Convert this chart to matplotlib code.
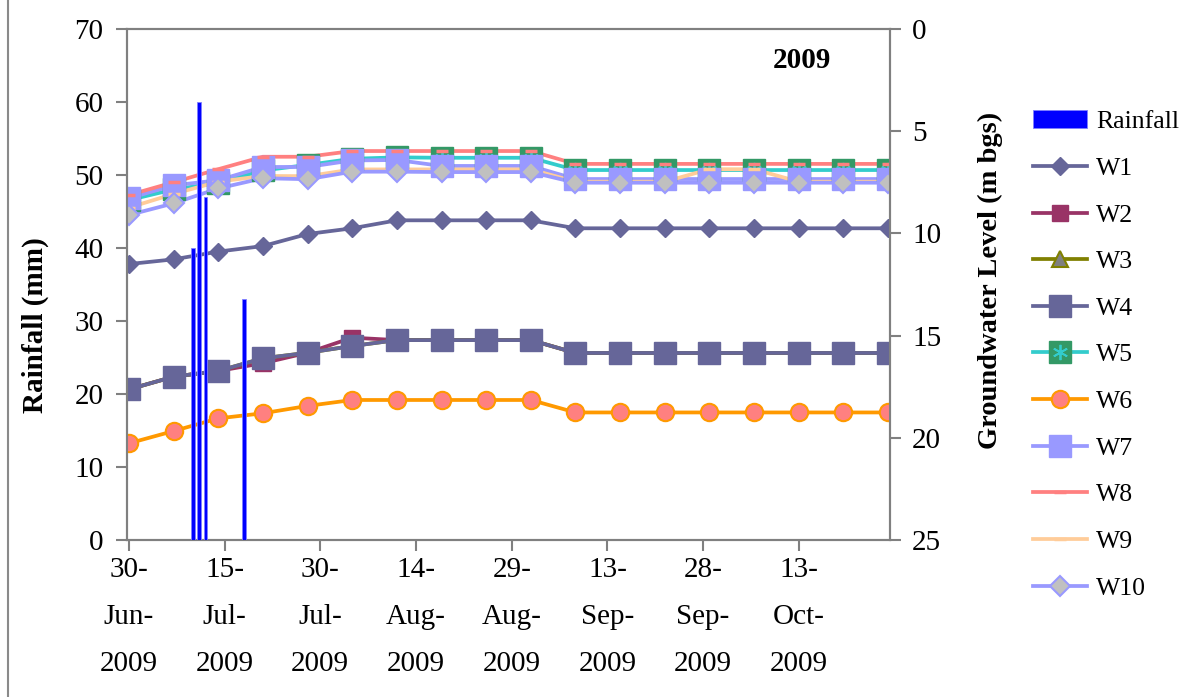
import datetime as dt

import matplotlib
matplotlib.use("Agg")
import matplotlib.pyplot as plt
import matplotlib.dates as mdates
from matplotlib.lines import Line2D
from matplotlib.patches import Patch

plt.rcParams["font.family"] = ["Liberation Serif", "DejaVu Serif"]

# ---- data -------------------------------------------------------------
obs_dates = ["2009-06-30", "2009-07-07", "2009-07-14", "2009-07-21",
             "2009-07-28", "2009-08-04", "2009-08-11", "2009-08-18",
             "2009-08-25", "2009-09-01", "2009-09-08", "2009-09-15",
             "2009-09-22", "2009-09-29", "2009-10-06", "2009-10-13",
             "2009-10-20", "2009-10-27"]

rain_dates = ["2009-07-10", "2009-07-11", "2009-07-12", "2009-07-18"]
rain_mm = [40, 60, 47, 33]

# groundwater level, m below ground surface
w1 = [11.50, 11.27, 10.89, 10.62, 10.03, 9.75, 9.36, 9.36, 9.36, 9.36,
      9.75, 9.75, 9.75, 9.75, 9.75, 9.75, 9.75, 9.75]
w2 = [17.63, 17.01, 16.73, 16.35, 15.84, 15.10, 15.22, 15.22, 15.22, 15.22,
      15.85, 15.85, 15.85, 15.85, 15.85, 15.85, 15.85, 15.85]
w3 = [17.63, 17.01, 16.73, 16.11, 15.84, 15.51, 15.22, 15.22, 15.22, 15.22,
      15.85, 15.85, 15.85, 15.85, 15.85, 15.85, 15.85, 15.85]
w4 = [17.63, 17.01, 16.73, 16.11, 15.84, 15.51, 15.22, 15.22, 15.22, 15.22,
      15.85, 15.85, 15.85, 15.85, 15.85, 15.85, 15.85, 15.85]
w5 = [8.37, 7.85, 7.53, 6.92, 6.65, 6.35, 6.28, 6.30, 6.30, 6.30,
      6.90, 6.90, 6.90, 6.90, 6.90, 6.90, 6.90, 6.90]
w6 = [20.27, 19.67, 19.05, 18.80, 18.44, 18.15, 18.15, 18.15, 18.15, 18.15,
      18.76, 18.76, 18.76, 18.76, 18.76, 18.76, 18.76, 18.76]
w7 = [8.28, 7.65, 7.40, 6.75, 6.75, 6.43, 6.41, 6.70, 6.70, 6.70,
      7.34, 7.34, 7.34, 7.34, 7.34, 7.34, 7.34, 7.34]
w8 = [8.12, 7.50, 6.86, 6.25, 6.25, 5.97, 5.97, 5.97, 5.97, 5.97,
      6.60, 6.60, 6.60, 6.60, 6.60, 6.60, 6.60, 6.60]
w9 = [8.74, 8.07, 7.47, 7.19, 7.20, 6.87, 6.87, 6.87, 6.87, 6.87,
      7.47, 7.47, 7.47, 6.86, 6.86, 7.47, 7.47, 7.47]
w10 = [9.10, 8.53, 7.80, 7.30, 7.35, 6.98, 6.98, 7.00, 7.00, 7.00,
       7.52, 7.52, 7.52, 7.52, 7.52, 7.52, 7.52, 7.52]

well_names = ["W1", "W2", "W3", "W4", "W5", "W6", "W7", "W8", "W9", "W10"]
well_levels = [w1, w2, w3, w4, w5, w6, w7, w8, w9, w10]

tick_dates = ["2009-06-30", "2009-07-15", "2009-07-30", "2009-08-14",
              "2009-08-29", "2009-09-13", "2009-09-28", "2009-10-13"]

# ---- styles -----------------------------------------------------------
well_styles = {
    "W1": dict(color="#666699", marker="D", ms=9.5, mfc="#666699", mec="#666699", mew=1),
    "W2": dict(color="#993366", marker="s", ms=12, mfc="#993366", mec="#993366", mew=1),
    "W3": dict(color="#808000", marker="^", ms=12, mfc="#808080", mec="#808000", mew=1.5),
    "W4": dict(color="#666699", marker="s", ms=16.5, mfc="#666699", mec="#666699", mew=1),
    "W5": dict(color="#33CCCC", marker="s", ms=16.5, mfc="#339966", mec="#339966", mew=1),
    "W6": dict(color="#FF9900", marker="o", ms=12.5, mfc="#FF8080", mec="#FF9900", mew=1.5),
    "W7": dict(color="#9999FF", marker="s", ms=16.5, mfc="#9999FF", mec="#9999FF", mew=1),
    "W8": dict(color="#FF8080", marker="_", ms=8.5, mfc="#FF8080", mec="#FF8080", mew=2.5),
    "W9": dict(color="#FFCC99", marker="_", ms=8.5, mfc="#FFCC99", mec="#FFCC99", mew=2.5),
    "W10": dict(color="#9999FF", marker="D", ms=10, mfc="#C0C0C0", mec="#9999FF", mew=1.5),
}
LINE_W = 2.7
GRID_GREY = "#808080"
FS = 21


def to_dt(s):
    return dt.datetime.strptime(s, "%Y-%m-%d")


obs_x = [to_dt(d) for d in obs_dates]
rain_x = [to_dt(d) for d in rain_dates]

W, H = 1181, 697
fig = plt.figure(figsize=(W / 100, H / 100), dpi=100)
fig.patch.set_facecolor("white")

L, R, T, B = 127, 890, 29, 540
ax = fig.add_axes([L / W, 1 - B / H, (R - L) / W, (B - T) / H])
ax2 = ax.twinx()

# groundwater lines: all lines first, then markers on top in series order
for name, lev in zip(well_names, well_levels):
    st = well_styles[name]
    ax2.plot(obs_x, lev, color=st["color"], lw=LINE_W, zorder=2,
             solid_capstyle="butt", solid_joinstyle="miter")
for i, (name, lev) in enumerate(zip(well_names, well_levels)):
    st = well_styles[name]
    ax2.plot(obs_x, lev, ls="none", marker=st["marker"], ms=st["ms"],
             mfc=st["mfc"], mec=st["mec"], mew=st["mew"], zorder=3 + i * 0.01)
    if name == "W5":
        ax2.plot(obs_x, lev, ls="none", marker=(6, 2, 0), ms=11,
                 mec="#33CCCC", mew=1.3, zorder=3 + i * 0.01 + 0.005)

# rainfall columns drawn above the well series
ax.bar(rain_x, rain_mm, width=0.6, color="#0000FF", edgecolor="#8080FF",
       linewidth=0.6, zorder=3)
ax.set_zorder(ax2.get_zorder() + 1)
ax.patch.set_visible(False)

# axes ranges and ticks
x0 = mdates.date2num(obs_x[0]) - 0.3
x1 = mdates.date2num(obs_x[-1]) + 0.3
ax.set_xlim(x0, x1)
ax.set_ylim(0, 70)
ax.set_yticks(range(0, 71, 10))
ax2.set_ylim(25, 0)
ax2.set_yticks(range(0, 26, 5))

tx = [to_dt(d) for d in tick_dates]
ax.set_xticks(tx)
ax.set_xticklabels([d.strftime("%d-\n%b-\n%Y") for d in tx],
                   linespacing=2.05)

for a in (ax, ax2):
    for sp in a.spines.values():
        sp.set_color(GRID_GREY)
        sp.set_linewidth(1.5)
ax.tick_params(axis="both", direction="out", length=8, width=1.5,
               color=GRID_GREY, labelsize=FS)
ax.tick_params(axis="y", pad=9)
ax.tick_params(axis="x", pad=4)
ax2.tick_params(axis="y", direction="out", length=8, width=1.5,
                color=GRID_GREY, labelsize=FS, pad=8)

fig.text(35 / W, 1 - 325 / H, "Rainfall (mm)", rotation=90, fontsize=FS,
         fontweight="bold", ha="center", va="center")
fig.text(990 / W, 1 - 280 / H, "Groundwater Level (m bgs)", rotation=90,
         fontsize=20.5, fontweight="bold", ha="center", va="center")
fig.text(802 / W, 1 - 61 / H, "2009", fontsize=FS, fontweight="bold",
         ha="center", va="center")

# legend
handles = [Patch(facecolor="#0000FF", edgecolor="#8080FF", linewidth=0.6)]
for name in well_names:
    st = well_styles[name]
    h = Line2D([], [], color=st["color"], lw=LINE_W, marker=st["marker"],
               ms=st["ms"], mfc=st["mfc"], mec=st["mec"], mew=st["mew"])
    if name == "W5":
        star = Line2D([], [], ls="none", marker=(6, 2, 0), ms=11,
                      mec="#33CCCC", mew=1.3)
        h = (h, star)
    handles.append(h)
labels = ["Rainfall"] + well_names
fig.legend(handles, labels, loc="center left",
           bbox_to_anchor=(1033 / W, 1 - 355 / H), frameon=False,
           fontsize=18.5, handlelength=2.1, handleheight=0.7,
           handletextpad=0.35, labelspacing=0.92, borderpad=0,
           borderaxespad=0, numpoints=1)

# chart area border
fig.add_artist(Line2D([8 / W, 8 / W], [0, 1], transform=fig.transFigure,
                      color="#8a8a8a", lw=1.5))

fig.savefig("out.png", dpi=100)
